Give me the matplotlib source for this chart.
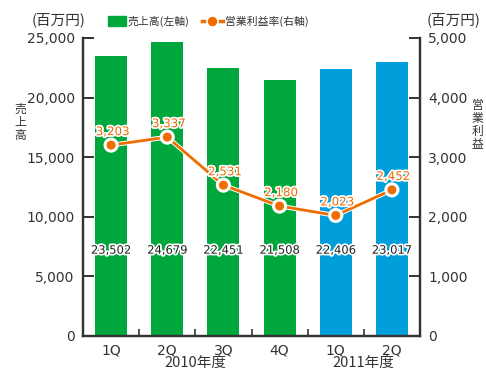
import numpy as np
import matplotlib.pyplot as plt
import matplotlib.patheffects as pe

plt.rcParams['font.family'] = ['DejaVu Sans', 'Noto Sans CJK JP']

quarters = ['1Q', '2Q', '3Q', '4Q', '1Q', '2Q']
years = ['2010年度', '2011年度']
sales = [23502, 24679, 22451, 21508, 22406, 23017]  # 売上高(百万円)
profit = [3203, 3337, 2531, 2180, 2023, 2452]  # 営業利益(百万円)
bar_colors = ['#00a73c'] * 4 + ['#009fdb'] * 2

ORANGE = '#ee6c00'
DARK = '#333333'
JP = ['Noto Sans CJK JP', 'DejaVu Sans']

fig = plt.figure(figsize=(4.86, 3.70), dpi=100)
ax = fig.add_axes([0.1708, 0.0919, 0.6934, 0.8054])
ax2 = ax.twinx()

x = np.arange(len(quarters))
ax.bar(x, sales, width=0.57, color=bar_colors, zorder=2)
ax.set_xlim(-0.5, len(quarters) - 0.5)
ax.set_ylim(0, 25000)
ax.set_yticks(np.arange(0, 25001, 5000))
ax.set_yticklabels([f'{v:,}' for v in range(0, 25001, 5000)])

ax2.set_ylim(0, 5000)
ax2.set_yticks(np.arange(0, 5001, 1000))
ax2.set_yticklabels([f'{v:,}' for v in range(0, 5001, 1000)])

# 棒の数値
for xi, v in zip(x, sales):
    ax.text(xi, 7200, f'{v:,}', ha='center', va='center', fontsize=8.3, color='#222222',
            path_effects=[pe.withStroke(linewidth=2.5, foreground='white')], zorder=3)

# 営業利益の折れ線
ax2.plot(x, profit, color=ORANGE, lw=2.0, marker='o', ms=7.5, mfc=ORANGE, mec='white',
         mew=1.0, zorder=4,
         path_effects=[pe.Stroke(linewidth=3.4, foreground='white'), pe.Normal()])
for xi, v in zip(x, profit):
    ax2.annotate(f'{v:,}', (xi, v), xytext=(1, 5), textcoords='offset points',
                 ha='center', va='bottom', fontsize=8.5, color=ORANGE,
                 path_effects=[pe.withStroke(linewidth=2.5, foreground='white')], zorder=5)

for a in (ax, ax2):
    a.spines['top'].set_visible(False)
    for s in ('left', 'right', 'bottom'):
        a.spines[s].set_color(DARK)
        a.spines[s].set_linewidth(1.6)
    a.tick_params(axis='y', direction='in', length=8, width=1.4, colors=DARK,
                  labelsize=10, pad=6)

# x軸: 区切りの目盛
ax.set_xticks(np.arange(-0.5, len(quarters)), minor=False)
ax.set_xticklabels([])
ax.tick_params(axis='x', direction='in', length=5, width=1.2, colors=DARK)
for xi, q in zip(x, quarters):
    ax.text(xi, -0.025, q, transform=ax.get_xaxis_transform(), ha='center', va='top',
            fontsize=10, color=DARK)
for xc, yr in zip([1.5, 4.5], years):
    ax.text(xc, -0.066, yr, transform=ax.get_xaxis_transform(), ha='center', va='top',
            fontsize=10.5, color=DARK, family=JP)

# 単位と軸タイトル
fig.text(0.121, 0.947, '(百万円)', ha='center', va='center', fontsize=10.5, color=DARK, family=JP)
fig.text(0.934, 0.947, '(百万円)', ha='center', va='center', fontsize=10.5, color=DARK, family=JP)
fig.text(0.041, 0.67, '売\n上\n高', ha='center', va='center', fontsize=8.5, color=DARK,
         family=JP, linespacing=1.0)
fig.text(0.983, 0.662, '営\n業\n利\n益', ha='center', va='center', fontsize=8.5, color=DARK,
         family=JP, linespacing=1.0)

# 凡例
fig.patches.append(plt.Rectangle((0.222, 0.93), 0.037, 0.027, transform=fig.transFigure,
                                 color='#00a73c'))
fig.text(0.263, 0.943, '売上高(左軸)', ha='left', va='center', fontsize=7.8, color=DARK, family=JP)
fig.lines.append(plt.Line2D([0.416, 0.458], [0.943, 0.943], transform=fig.transFigure,
                            color=ORANGE, lw=2.5))
fig.lines.append(plt.Line2D([0.437], [0.943], transform=fig.transFigure, color=ORANGE,
                            marker='o', ms=8, mfc=ORANGE, mec='white', mew=1.2))
fig.text(0.462, 0.943, '営業利益率(右軸)', ha='left', va='center', fontsize=7.8, color=DARK, family=JP)

fig.savefig('out.png', dpi=100)
